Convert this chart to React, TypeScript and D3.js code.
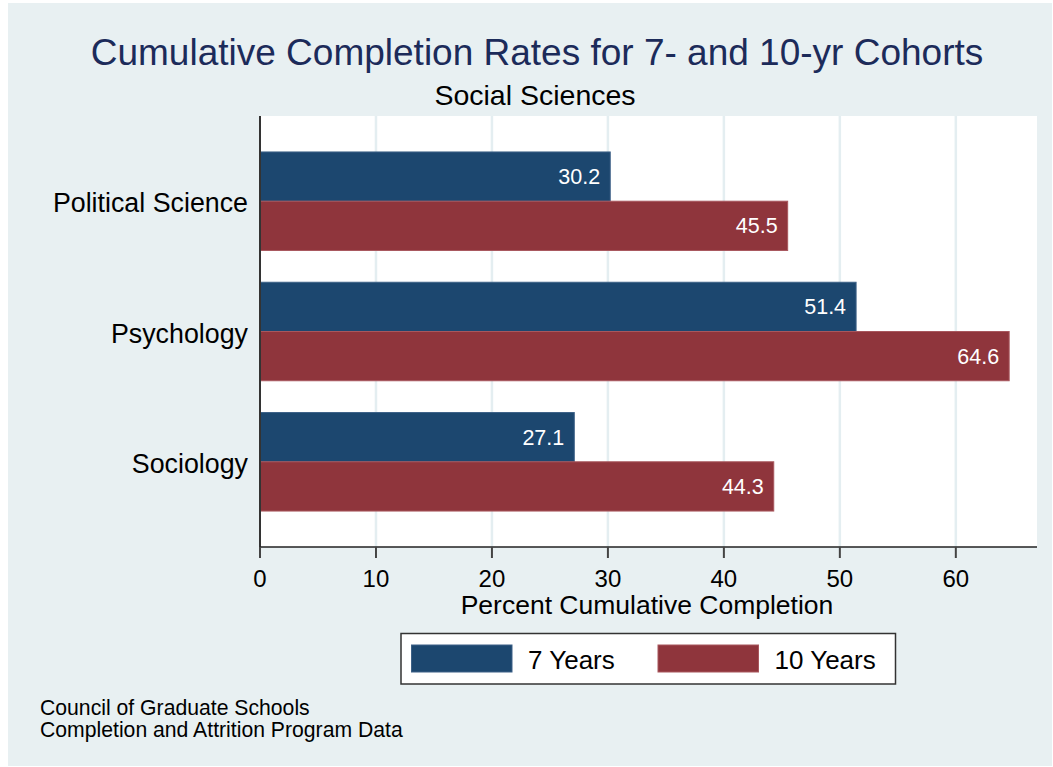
import React from "react";
import * as d3 from "d3";

// chart values
const categories = ["Political Science", "Psychology", "Sociology"];
const seriesNames = ["7 Years", "10 Years"];
const sevenYears = [30.2, 51.4, 27.1];
const tenYears = [45.5, 64.6, 44.3];
const xTicks = [0, 10, 20, 30, 40, 50, 60];
const notes = ["Council of Graduate Schools", "Completion and Attrition Program Data"];

const W = 1053;
const H = 767;
const FONT = "'Liberation Sans', Arial, Helvetica, sans-serif";
const BG = "#e8f0f2";
const GRID = "#e4eef1";
const colors = ["#1c476f", "#8f353c"];
const strokes = ["#3d6187", "#a8575d"];

const plot = { left: 260, right: 1037, top: 116, bottom: 547 };

const App = () => {
  const x = d3.scaleLinear().domain([0, 67]).range([plot.left, plot.right]);
  const y = d3
    .scaleBand<string>()
    .domain(categories)
    .range([plot.top, plot.bottom])
    .paddingInner(0.244)
    .paddingOuter(0.276);
  const sub = d3.scaleBand<string>().domain(seriesNames).range([0, y.bandwidth()]);

  const series = [sevenYears, tenYears];

  return (
    <div style={{ position: "absolute", left: 0, top: 0 }}>
      <svg width={W} height={H} style={{ display: "block", fontFamily: FONT }}>
        <rect x={0} y={0} width={W} height={H} fill="#ffffff" />
        <rect x={8} y={3} width={1044} height={763} fill={BG} />

        {/* titles */}
        <text x={537} y={65} textAnchor="middle" fontSize={37} fill="#1c2b5a">
          Cumulative Completion Rates for 7- and 10-yr Cohorts
        </text>
        <text x={535} y={105} textAnchor="middle" fontSize={28.5} fill="#000">
          Social Sciences
        </text>

        {/* plot region */}
        <rect x={plot.left} y={plot.top} width={plot.right - plot.left} height={plot.bottom - plot.top} fill="#ffffff" />
        {xTicks
          .filter(t => t > 0)
          .map(t => (
            <line key={`g${t}`} x1={x(t)} x2={x(t)} y1={plot.top} y2={plot.bottom} stroke={GRID} strokeWidth={2.5} />
          ))}

        {/* bars */}
        {categories.map((c, i) =>
          seriesNames.map((s, j) => {
            const v = series[j][i];
            const y0 = (y(c) ?? 0) + (sub(s) ?? 0);
            const h = sub.bandwidth();
            return (
              <g key={`${c}-${s}`}>
                <rect
                  x={x(0)}
                  y={y0}
                  width={x(v) - x(0)}
                  height={h}
                  fill={colors[j]}
                  stroke={strokes[j]}
                  strokeWidth={1}
                />
                <text x={x(v) - 10} y={y0 + h / 2 + 7.5} textAnchor="end" fontSize={21.5} fill="#ffffff">
                  {v.toFixed(1)}
                </text>
              </g>
            );
          }),
        )}

        {/* axes */}
        <line x1={plot.left} x2={plot.left} y1={plot.top} y2={plot.bottom} stroke="#333" strokeWidth={2} />
        <line x1={plot.left} x2={plot.right} y1={plot.bottom} y2={plot.bottom} stroke="#222" strokeWidth={1.5} />
        {xTicks.map(t => (
          <g key={`t${t}`}>
            <line x1={x(t)} x2={x(t)} y1={plot.bottom} y2={plot.bottom + 11} stroke="#444" strokeWidth={2} />
            <text x={x(t)} y={587} textAnchor="middle" fontSize={24} fill="#000">
              {t}
            </text>
          </g>
        ))}
        <text x={647} y={614} textAnchor="middle" fontSize={26.5} fill="#000">
          Percent Cumulative Completion
        </text>
        {categories.map(c => (
          <text key={c} x={248} y={(y(c) ?? 0) + y.bandwidth() / 2 + 11} textAnchor="end" fontSize={26.8} fill="#000">
            {c}
          </text>
        ))}

        {/* legend */}
        <rect x={401} y={633.5} width={494.5} height={50.5} fill="#ffffff" stroke="#333" strokeWidth={1.5} />
        {seriesNames.map((s, j) => {
          const lx = 411.5 + j * 246.5;
          return (
            <g key={s}>
              <rect x={lx} y={645} width={100.5} height={27} fill={colors[j]} stroke={strokes[j]} strokeWidth={1} />
              <text x={lx + 116.5} y={669} fontSize={26} fill="#000">
                {s}
              </text>
            </g>
          );
        })}

        {/* notes */}
        {notes.map((n, i) => (
          <text key={n} x={40} y={715 + i * 22} fontSize={21.2} fill="#000">
            {n}
          </text>
        ))}
      </svg>
    </div>
  );
};

export default App;
